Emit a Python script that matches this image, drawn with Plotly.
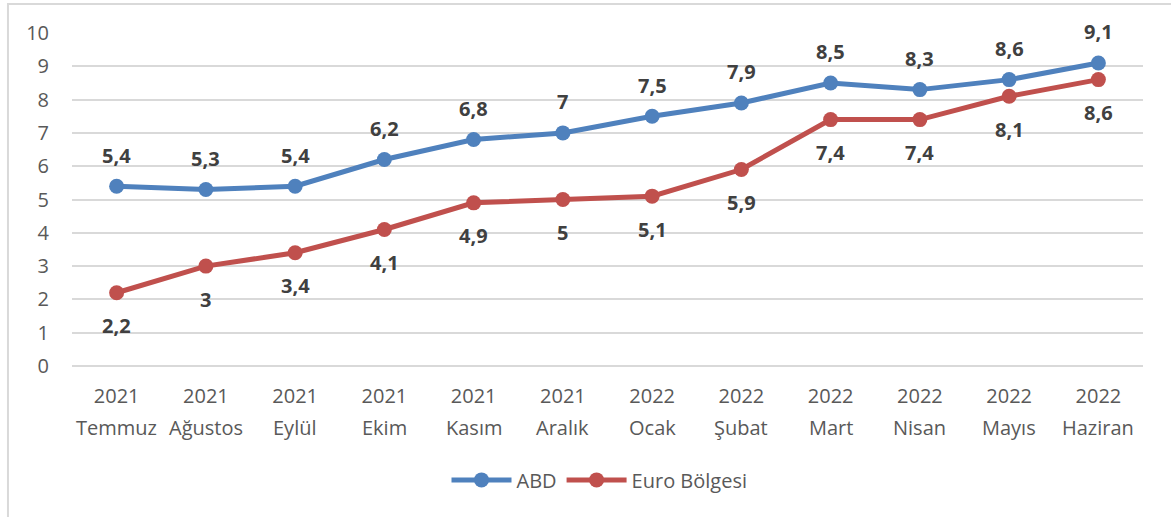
import plotly.graph_objects as go

years = ["2021", "2021", "2021", "2021", "2021", "2021",
         "2022", "2022", "2022", "2022", "2022", "2022"]
months = ["Temmuz", "Ağustos", "Eylül", "Ekim", "Kasım", "Aralık",
          "Ocak", "Şubat", "Mart", "Nisan", "Mayıs", "Haziran"]
categories = [y + " " + m for y, m in zip(years, months)]
abd = [5.4, 5.3, 5.4, 6.2, 6.8, 7.0, 7.5, 7.9, 8.5, 8.3, 8.6, 9.1]
euro = [2.2, 3.0, 3.4, 4.1, 4.9, 5.0, 5.1, 5.9, 7.4, 7.4, 8.1, 8.6]
y_ticks = list(range(0, 11))

BLUE = "#4F81BD"
RED = "#C0504D"
FONT = "Open Sans, Noto Sans, sans-serif"
TXT = "#595959"
LBL = "#404040"

def fmt(v):
    return ("%g" % v).replace(".", ",")

fig = go.Figure()
fig.add_trace(go.Scatter(x=categories, y=abd, mode="lines+markers", name="ABD",
                         line=dict(color=BLUE, width=5), marker=dict(size=15, color=BLUE)))
fig.add_trace(go.Scatter(x=categories, y=euro, mode="lines+markers", name="Euro Bölgesi   ",
                         line=dict(color=RED, width=5), marker=dict(size=15, color=RED)))

annotations = []
for c, v in zip(categories, abd):
    annotations.append(dict(x=c, y=v, text="<b>" + fmt(v) + "</b>", showarrow=False,
                            yshift=31, font=dict(size=20, color=LBL, family=FONT)))
for c, v in zip(categories, euro):
    annotations.append(dict(x=c, y=v, text="<b>" + fmt(v) + "</b>", showarrow=False,
                            yshift=-33, font=dict(size=20, color=LBL, family=FONT)))
for c, m in zip(categories, months):
    annotations.append(dict(x=c, xref="x", y=0, yref="paper", yanchor="middle",
                            text=m, showarrow=False, yshift=-61,
                            font=dict(size=20, color=TXT, family=FONT)))

fig.update_layout(
    width=1171, height=517,
    margin=dict(l=72, r=28, t=33, b=151),
    paper_bgcolor="white", plot_bgcolor="white",
    font=dict(family=FONT, size=20, color=TXT),
    showlegend=True,
    legend=dict(orientation="h", x=0.5, xanchor="center", xref="paper",
                y=-0.342, yanchor="middle", font=dict(size=20, color=TXT),
                itemwidth=60),
    annotations=annotations,
    shapes=[dict(type="rect", xref="paper", yref="paper",
                 x0=-0.0598, x1=1.2, y0=-1.0, y1=1.087,
                 line=dict(color="#D9D9D9", width=2), fillcolor="rgba(0,0,0,0)", layer="below")],
)
fig.update_xaxes(type="category", range=[-0.5, 11.5], showgrid=False, showline=False,
                 ticks="", tickmode="array", tickvals=categories, ticktext=years,
                 tickfont=dict(size=20, color=TXT), ticklabelstandoff=16)
fig.update_yaxes(range=[0, 10], tickvals=y_ticks, showgrid=True, gridcolor="#D9D9D9",
                 gridwidth=1.5, zeroline=True, zerolinecolor="#D9D9D9", zerolinewidth=1.5,
                 showline=False, ticks="", tickfont=dict(size=20, color=TXT),
                 ticklabelstandoff=22)

fig.write_html("out.html", config={"displayModeBar": False},
               post_script="document.body.style.margin='0';")
